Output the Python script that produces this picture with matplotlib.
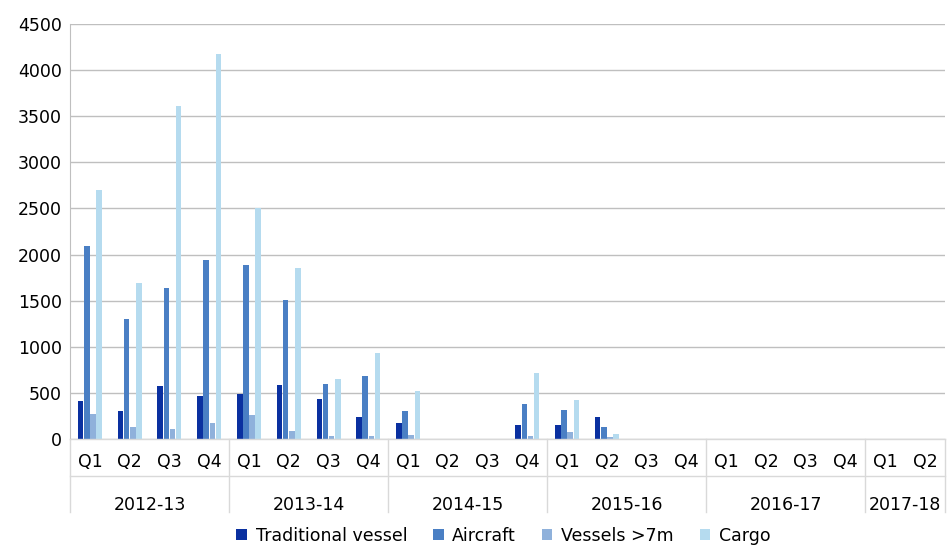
import matplotlib
matplotlib.use("Agg")
import matplotlib.pyplot as plt
import numpy as np

years = ["2012-13", "2013-14", "2014-15", "2015-16", "2016-17", "2017-18"]
quarters_per_year = [4, 4, 4, 4, 4, 2]
series_names = ["Traditional vessel", "Aircraft", "Vessels >7m", "Cargo"]
traditional = [409, 300, 572, 463, 492, 590, 431, 235, 170, 0, 0, 148, 152, 235, 0, 0, 0, 0, 0, 0, 0, 0]
aircraft = [2090, 1300, 1640, 1940, 1890, 1510, 597, 684, 300, 0, 0, 380, 315, 127, 0, 0, 0, 0, 0, 0, 0, 0]
vessels7m = [268, 127, 112, 170, 264, 83, 36, 36, 40, 0, 0, 29, 76, 25, 0, 0, 0, 0, 0, 0, 0, 0]
cargo = [2700, 1690, 3610, 4180, 2500, 1850, 648, 930, 525, 0, 0, 720, 424, 51, 0, 0, 0, 0, 0, 0, 0, 0]
colors = ["#0A30A0", "#4A7FC4", "#8FB1DB", "#B5DBEF"]

W, H = 950, 557
fig = plt.figure(figsize=(W/100, H/100), dpi=100)
L, R, T, B = 70, 945, 24, 439
ax = fig.add_axes([L/W, 1-B/H, (R-L)/W, (B-T)/H])

n = len(traditional)
x = np.arange(n)
bw = 0.155
for i, (vals, c, nm) in enumerate(zip([traditional, aircraft, vessels7m, cargo], colors, series_names)):
    ax.bar(x + (i-1.5)*bw, vals, bw*0.9, color=c, label=nm, zorder=3)

ax.set_xlim(-0.5, n-0.5)
ax.set_ylim(0, 4500)
ax.set_yticks(range(0, 4501, 500))
ax.grid(axis="y", color="#BFBFBF", lw=1, zorder=0)
for s in ["top", "right", "bottom"]:
    ax.spines[s].set_visible(False)
ax.spines["left"].set_color("#BFBFBF")
ax.tick_params(axis="y", length=0, labelsize=12.5, pad=6)
ax.tick_params(axis="x", length=0, labelsize=12.5, pad=10)
qlabels = []
for q in quarters_per_year:
    qlabels += [f"Q{k+1}" for k in range(q)]
ax.set_xticks(x)
ax.set_xticklabels(qlabels)

# group labels & separators
trans = ax.get_xaxis_transform()
ax.plot([-0.5, n-0.5], [0, 0], transform=trans, color="#D9D9D9", lw=1, clip_on=False, zorder=4)
start = 0
seps = [-0.5]
for yname, q in zip(years, quarters_per_year):
    mid = start + (q-1)/2
    ax.text(mid, -0.16, yname, transform=trans, ha="center", va="center", fontsize=12.5)
    start += q
    seps.append(start-0.5)
for s in seps:
    ax.plot([s, s], [0, -0.175], transform=trans, color="#D9D9D9", lw=1, clip_on=False)
ax.plot([-0.5, -0.5], [-0.09, -0.09], transform=trans, color="#D9D9D9")
ax.plot([-0.5, n-0.5], [-0.09, -0.09], transform=trans, color="#D9D9D9", lw=1, clip_on=False)

fig.legend(loc="center", bbox_to_anchor=(0.53, 1-536/H), ncol=4, frameon=False,
           fontsize=12.5, handlelength=0.6, handleheight=0.6, columnspacing=1.5, handletextpad=0.5)
fig.savefig("out.png", dpi=100)
